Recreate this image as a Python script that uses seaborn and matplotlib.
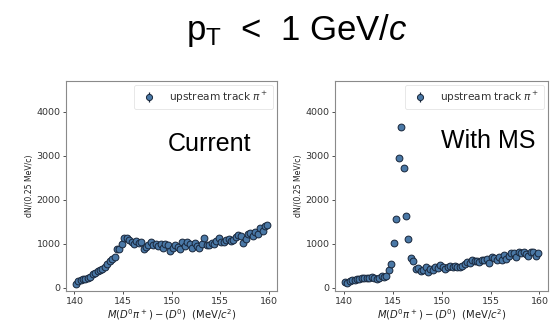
import numpy as np
import matplotlib
matplotlib.use("Agg")
import matplotlib.pyplot as plt
import seaborn as sns
from matplotlib.lines import Line2D

# ---- data ----
bin_centers = [140.125 + 0.25 * i for i in range(80)]

current_counts = [
    80, 150, 170, 190, 200, 220, 240, 310, 330, 370, 400, 430, 480, 530, 610, 650,
    700, 870, 880, 1000, 1130, 1140, 1080, 1050, 1000, 1060, 1020, 1040, 890, 920,
    980, 1050, 960, 1000, 940, 1000, 900, 1000, 960, 830, 900, 960, 920, 880, 1030,
    940, 1050, 1000, 900, 1020, 950, 900, 1000, 1120, 960, 980, 1020, 1000, 1060,
    1140, 1050, 1030, 1080, 1100, 1060, 1090, 1150, 1200, 1180, 1020, 1100, 1230,
    1250, 1170, 1270, 1220, 1350, 1280, 1400, 1420,
]

ms_counts = [
    140, 100, 150, 170, 180, 200, 200, 220, 230, 230, 230, 240, 220, 200, 230, 260,
    250, 270, 400, 540, 1020, 1560, 2950, 3650, 2730, 1620, 1100, 680, 600, 420,
    440, 380, 400, 480, 360, 420, 400, 460, 450, 520, 480, 430, 470, 500, 460, 500,
    480, 470, 500, 540, 580, 560, 620, 600, 610, 580, 640, 620, 660, 560, 700, 680,
    620, 700, 640, 750, 660, 720, 780, 800, 700, 820, 800, 810, 760, 720, 820, 820,
    720, 780,
]

panel_notes = ["Current", "With MS"]
legend_label = r"upstream track $\pi^+$"
x_label = r"$M(D^0\pi^+)-(D^0)$  (MeV/$c^2$)"
y_label = "dN/(0.25 MeV/c)"
title_text = r"p$_{\mathrm{T}}$  <  1 GeV/$c$"
x_ticks = [140, 145, 150, 155, 160]
y_ticks = [0, 1000, 2000, 3000, 4000]

# ---- style ----
sns.set_style("white")
plt.rcParams["font.family"] = ["DejaVu Sans"]
plt.rcParams["mathtext.fontset"] = "dejavusans"
plt.rcParams["mathtext.rm"] = "Liberation Sans"
plt.rcParams["mathtext.it"] = "Liberation Sans:italic"
plt.rcParams["mathtext.bf"] = "Liberation Sans:bold"

face = "#4a78a6"
edge = "#18263a"

fig = plt.figure(figsize=(5.53, 3.22), dpi=100)
axes = [fig.add_axes([0.1194, 0.0963, 0.3816, 0.652]),
        fig.add_axes([0.6058, 0.0963, 0.3852, 0.652])]

datasets = [current_counts, ms_counts]
note_pos = [(0.68, 0.70), (0.72, 0.715)]

for ax, counts, note, npos in zip(axes, datasets, panel_notes, note_pos):
    c = np.array(counts, dtype=float)
    err = np.sqrt(c)
    eb = ax.errorbar(bin_centers, c, yerr=err, fmt="none", ecolor=edge,
                     elinewidth=0.9, zorder=2)
    sns.scatterplot(x=bin_centers, y=c, ax=ax, s=24, color=face,
                    edgecolor=edge, linewidth=0.7, legend=False, zorder=3)
    ax.set_xlim(139.13, 160.87)
    ax.set_ylim(-75, 4700)
    ax.set_xticks(x_ticks)
    ax.set_yticks(y_ticks)
    ax.tick_params(axis="both", labelsize=6.8, colors="#333333", length=2.5,
                   width=0.6, direction="out", bottom=True, left=True, pad=1.5)
    for sp in ax.spines.values():
        sp.set_color("#8a8a8a")
        sp.set_linewidth(0.8)
    ax.set_xlabel(x_label, fontsize=7.2, color="#222222", labelpad=1)
    ax.set_ylabel(y_label, fontsize=5.6, color="#222222", labelpad=2)
    mk = Line2D([], [], marker="o", linestyle="none", markersize=4.4,
                markerfacecolor=face, markeredgecolor=edge, markeredgewidth=0.7)
    leg = ax.legend([(eb, mk)], [legend_label], loc="upper right", fontsize=7.6,
                    frameon=True, borderaxespad=0.35, handletextpad=0.9,
                    borderpad=0.45)
    leg.get_frame().set_edgecolor("#dddddd")
    leg.get_frame().set_linewidth(0.6)
    for t in leg.get_texts():
        t.set_color("#333333")
    ax.text(npos[0], npos[1], note, transform=ax.transAxes, ha="center",
            va="center", fontsize=18, family="Liberation Sans", color="black")

fig.text(0.536, 0.905, title_text, ha="center", va="center", fontsize=25,
         family="Liberation Sans", math_fontfamily="custom", color="black")

fig.savefig("out.png", dpi=100)
